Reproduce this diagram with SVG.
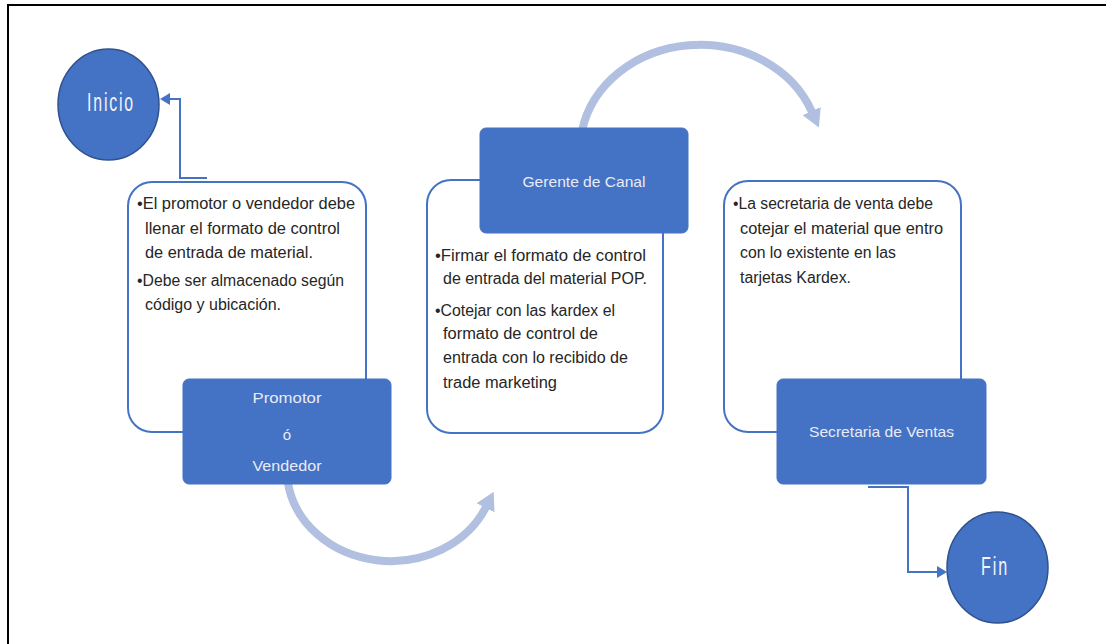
<svg xmlns="http://www.w3.org/2000/svg" width="1106" height="644" viewBox="0 0 1106 644">
<style>
.frame{stroke:#000;stroke-width:2;fill:none}
.card{fill:#fff;stroke:#4472C4;stroke-width:2}
.role{fill:#4472C4;stroke:#4472C4;stroke-width:1}
.term{fill:#4472C4;stroke:#2F528F;stroke-width:1.5}
.body{font-family:"Liberation Sans Narrow","Liberation Sans",sans-serif;font-size:16px;fill:#262626}
.lbl{font-family:"Liberation Sans Narrow","Liberation Sans",sans-serif;font-size:15px;fill:#E8ECF6;text-anchor:middle}
.big{font-family:"Liberation Sans Narrow","Liberation Sans",sans-serif;font-size:26px;fill:#F2F4FA}
.flow{fill:none;stroke:#B1BFE0;stroke-width:8}
.conn{fill:none;stroke:#4472C4;stroke-width:2}
</style>
<defs>
<marker id="bigHead" markerUnits="userSpaceOnUse" viewBox="0 0 18 20" refX="1" refY="10" markerWidth="18" markerHeight="20" orient="auto">
<path d="M0,0 L18,10 L0,20 z" fill="#B1BFE0"/>
</marker>
<marker id="smallHead" markerUnits="userSpaceOnUse" viewBox="0 0 10 12" refX="1" refY="6" markerWidth="10" markerHeight="12" orient="auto">
<path d="M0,0 L10,6 L0,12 z" fill="#4472C4"/>
</marker>
</defs>
<rect width="1106" height="644" fill="#fff"/>
<path class="frame" d="M8,644 L8,5 L1106,5"/>

<g id="connectors">
<path class="flow" d="M288,483 A104 91 0 0 0 486,507" marker-end="url(#bigHead)"/>
<path class="flow" d="M582,131 A120 105 0 0 1 812,112" marker-end="url(#bigHead)"/>
<path class="conn" d="M207,178 L180,178 L180,99 L169,99" marker-end="url(#smallHead)"/>
<path class="conn" d="M868,487 L908,487 L908,572 L938,572" marker-end="url(#smallHead)"/>
</g>

<g id="inicio">
<ellipse class="term" cx="108.5" cy="104.5" rx="50.5" ry="55.5"/>
<text class="big" x="87" y="111" textLength="48" lengthAdjust="spacingAndGlyphs" letter-spacing="3">Inicio</text>
</g>

<g id="card-promotor">
<rect class="card" x="128" y="182" width="238" height="250" rx="24"/>
<text class="body" x="137" y="209" textLength="218" lengthAdjust="spacingAndGlyphs">•El promotor o vendedor debe</text>
<text class="body" x="145" y="234" textLength="195" lengthAdjust="spacingAndGlyphs">llenar el formato de control</text>
<text class="body" x="145" y="258" textLength="168" lengthAdjust="spacingAndGlyphs">de entrada de material.</text>
<text class="body" x="137" y="286" textLength="207" lengthAdjust="spacingAndGlyphs">•Debe ser almacenado según</text>
<text class="body" x="145" y="310" textLength="136" lengthAdjust="spacingAndGlyphs">código y ubicación.</text>
</g>
<g id="role-promotor">
<rect class="role" x="183" y="379" width="208" height="105" rx="6"/>
<text class="lbl" x="287" y="403" textLength="69" lengthAdjust="spacingAndGlyphs">Promotor</text>
<text class="lbl" x="287" y="440">ó</text>
<text class="lbl" x="287" y="471" textLength="69" lengthAdjust="spacingAndGlyphs">Vendedor</text>
</g>

<g id="card-gerente">
<rect class="card" x="427" y="180" width="236" height="253" rx="24"/>
<text class="body" x="435" y="261" textLength="211" lengthAdjust="spacingAndGlyphs">•Firmar el formato de control</text>
<text class="body" x="443" y="284" textLength="204" lengthAdjust="spacingAndGlyphs">de entrada del material POP.</text>
<text class="body" x="435" y="316" textLength="180" lengthAdjust="spacingAndGlyphs">•Cotejar con las kardex el</text>
<text class="body" x="443" y="339" textLength="155" lengthAdjust="spacingAndGlyphs">formato de control de</text>
<text class="body" x="443" y="363" textLength="185" lengthAdjust="spacingAndGlyphs">entrada con lo recibido de</text>
<text class="body" x="443" y="388" textLength="114" lengthAdjust="spacingAndGlyphs">trade marketing</text>
</g>
<g id="role-gerente">
<rect class="role" x="480" y="128" width="208" height="105" rx="6"/>
<text class="lbl" x="584" y="187" textLength="123" lengthAdjust="spacingAndGlyphs">Gerente de Canal</text>
</g>

<g id="card-secretaria">
<rect class="card" x="724" y="181" width="237" height="251" rx="24"/>
<text class="body" x="733" y="209" textLength="200" lengthAdjust="spacingAndGlyphs">•La secretaria de venta debe</text>
<text class="body" x="740" y="234" textLength="203" lengthAdjust="spacingAndGlyphs">cotejar el material que entro</text>
<text class="body" x="740" y="258" textLength="156" lengthAdjust="spacingAndGlyphs">con lo existente en las</text>
<text class="body" x="740" y="283" textLength="111" lengthAdjust="spacingAndGlyphs">tarjetas Kardex.</text>
</g>
<g id="role-secretaria">
<rect class="role" x="777" y="379" width="209" height="105" rx="6"/>
<text class="lbl" x="881.5" y="437" textLength="145" lengthAdjust="spacingAndGlyphs">Secretaria de Ventas</text>
</g>

<g id="fin">
<ellipse class="term" cx="997.5" cy="567.5" rx="50.5" ry="55.5"/>
<text class="big" x="981" y="575" textLength="28" lengthAdjust="spacingAndGlyphs" letter-spacing="3">Fin</text>
</g>
</svg>
